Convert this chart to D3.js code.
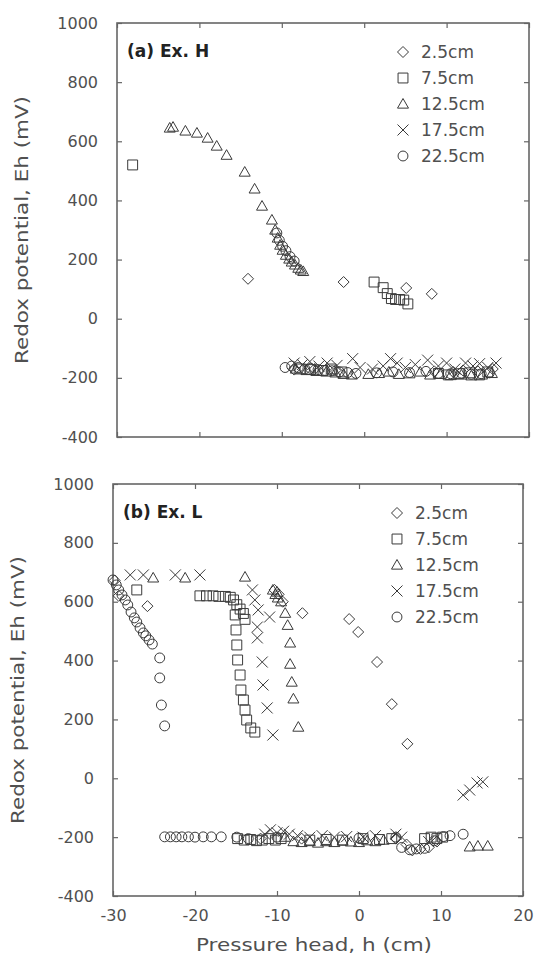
<!DOCTYPE html>
<html>
<head>
<meta charset="utf-8">
<script src="https://cdn.jsdelivr.net/npm/d3@7"></script>
<style>
  body { margin: 0; background: #fff; }
  svg text { font-family: "DejaVu Sans", sans-serif; fill: #505050; }
</style>
</head>
<body>
<svg id="chart" width="537" height="964"></svg>
<script>
// DATA
// ----------------------------------------
const X_TICKS = [-30, -20, -10, 0, 10, 20];
const Y_TICKS = [1000, 800, 600, 400, 200, 0, -200, -400];
const DEPTHS = ["2.5cm", "7.5cm", "12.5cm", "17.5cm", "22.5cm"];
const SHAPES = ["diamond", "square", "triangle", "cross", "circle"];

// (a) Ex. H  -- [pressure head h, Eh]
const exH_2_5 = [[-14.1, 135], [-2.5, 124], [5.1, 104], [8.2, 84],
  [-8.5, -172], [-6, -170], [-3.5, -175], [8.5, -178], [10.8, -180], [12, -175], [13.8, -178], [15.6, -170]];
const exH_7_5 = [[-28.1, 520], [1.2, 124], [2.3, 105], [2.8, 85], [3.3, 68], [3.8, 65], [4.3, 65], [4.8, 63], [5.3, 50],
  [-7.8, -170], [-6.5, -172], [-5, -175], [-4, -170], [-2.7, -180], [9, -185], [10.2, -190], [11.5, -186], [12.8, -183], [14, -190], [15, -180]];
const exH_12_5 = [[-23.6, 645], [-23.2, 648], [-21.7, 635], [-20.3, 628], [-19, 611], [-17.9, 584], [-16.7, 553],
  [-14.5, 496], [-13.3, 439], [-12.4, 381], [-11.2, 334], [-10.8, 300], [-10.5, 273], [-10.2, 249], [-9.9, 232],
  [-9.5, 215], [-9.1, 202], [-8.8, 192], [-8.4, 182], [-8, 171], [-7.7, 165], [-7.4, 160],
  [-8.3, -170], [-7, -175], [-5.8, -178], [-4.6, -180], [-3.5, -183], [-2.5, -188], [-1.5, -190], [0.5, -188],
  [1.8, -185], [3, -180], [4.2, -188], [5.5, -186], [6.8, -180], [8, -190], [9.2, -188], [10.5, -192], [11.8, -190],
  [13, -193], [14.3, -190], [15.5, -185]];
const exH_17_5 = [[-8.5, -150], [-7.5, -155], [-6.6, -145], [-5.5, -160], [-4.5, -150], [-3.3, -158], [-1.4, -135],
  [-0.5, -165], [1, -170], [2.3, -160], [3.2, -135], [4, -150], [5, -165], [6.2, -155], [7.7, -140], [9, -160],
  [10, -150], [11, -170], [12.3, -150], [13.2, -160], [14, -152], [15, -165], [16, -150]];
const exH_22_5 = [[-10.6, 290], [-10.3, 265], [-9.9, 245], [-9.5, 230], [-9, 210], [-8.5, 195],
  [-9.6, -165], [-8.8, -160], [-8, -165], [-7.2, -170], [-6.5, -168], [-5.6, -172], [-4.8, -175], [-3.9, -176],
  [-3, -180], [-2, -182], [-1, -185], [1.5, -183], [3.5, -180], [5.5, -182], [7.5, -178], [9, -185], [10.5, -186],
  [11.8, -184], [13, -188], [14.2, -186], [15.2, -183]];

// (b) Ex. L
const exL_2_5 = [[-29.8, 672], [-29.3, 620], [-25.8, 585], [-10.3, 640], [-9.8, 625], [-9.3, 600], [-6.9, 561],
  [-1.2, 541], [-0.1, 497], [2.2, 395], [4, 252], [5.9, 117],
  [-12, -205], [-7, -205], [4.5, -205], [5.8, -225], [6.5, -245], [7.5, -240], [8.5, -235], [9.5, -215]];
const exL_7_5 = [[-27.1, 640], [-19.4, 620], [-18.6, 620], [-17.8, 620], [-17.1, 618], [-16.3, 618], [-15.7, 615],
  [-15.3, 606], [-14.9, 590], [-14.5, 575], [-14.1, 560], [-13.9, 540],
  [-15.1, 555], [-15, 504], [-14.9, 453], [-14.8, 402], [-14.5, 351], [-14.4, 300], [-14.1, 266], [-13.9, 232],
  [-13.7, 198], [-13.2, 171], [-12.7, 157],
  [-14.8, -205], [-14, -210], [-13.2, -208], [-12.5, -212], [-11.8, -210], [-11, -205], [-10.2, -210], [-9.5, -205],
  [-6, -210], [-4, -208], [-2, -210], [0.5, -205], [2.5, -208], [4, -205], [8, -205], [8.8, -200], [9.5, -205], [10.2, -200]];
const exL_12_5 = [[-25.1, 681], [-21.2, 681], [-13.9, 684], [-10.5, 640], [-10.2, 625], [-10, 633], [-9.9, 613],
  [-9.5, 600], [-9, 561], [-8.7, 520], [-8.4, 460], [-8.4, 388], [-8.2, 327], [-8, 270], [-7.4, 174],
  [-9, -200], [-8, -215], [-7, -218], [-6, -215], [-5, -220], [-4, -215], [-3, -218], [-2, -213], [-1, -216],
  [0, -218], [1, -212], [2, -215], [3, -210], [13.5, -233], [14.5, -230], [15.7, -230]];
const exL_17_5 = [[-27.9, 691], [-26.3, 691], [-22.4, 691], [-19.4, 691], [-13, 640], [-12.7, 606], [-12.3, 572],
  [-10.9, 548], [-12.4, 514], [-12.4, 477], [-11.8, 395], [-11.7, 317], [-11.2, 239], [-10.5, 147],
  [-11.5, -190], [-10.8, -175], [-10, -185], [-9.2, -180], [-8.5, -190], [-7.5, -195], [-6, -200], [-4.5, -195],
  [-3, -200], [-1.5, -198], [0.5, -200], [2, -195], [4.5, -190], [5.2, -200], [8.5, -215],
  [12.7, -57], [13.5, -40], [14.4, -16], [15.1, -12]];
const exL_22_5 = [[-30, 674], [-29.6, 657], [-29.3, 640], [-28.9, 623], [-28.5, 606], [-28.2, 589], [-27.8, 565],
  [-27.4, 545], [-27.1, 531], [-26.7, 511], [-26.3, 494], [-26, 484], [-25.6, 470], [-25.2, 456],
  [-24.3, 409], [-24.3, 341], [-24.1, 249], [-23.7, 178],
  [-23.7, -199], [-23, -199], [-22.3, -199], [-21.6, -199], [-20.8, -199], [-20, -200], [-19, -199], [-18, -199],
  [-16.8, -199], [-14.9, -200], [-13.5, -205], [-10, -200], [0, -203], [4.5, -200], [5.2, -235], [6.2, -243],
  [7, -240], [8, -238], [9.2, -212], [10.3, -198], [11.1, -195], [12.7, -190]];

// LAYOUT
// ----------------------------------------
const MARK_SIZE = 11;
const STROKE = "#3a3a3a";
const svg = d3.select("#chart");
const fmt = d => String(d); // plain hyphen minus, as in the figure

const panels = [
  { label: "(a) Ex. H", series: [exH_2_5, exH_7_5, exH_12_5, exH_17_5, exH_22_5],
    left: 117, right: 529, top: 23, bottom: 437, xLabels: false, titleX: 22 },
  { label: "(b) Ex. L", series: [exL_2_5, exL_7_5, exL_12_5, exL_17_5, exL_22_5],
    left: 113, right: 523, top: 484, bottom: 896, xLabels: true, titleX: 18 }
];

// marker paths centred at 0,0
function markerPath(shape, s) {
  const h = s / 2;
  if (shape === "diamond") return `M0,${-h}L${h},0L0,${h}L${-h},0Z`;
  if (shape === "square") return `M${-h * 0.9},${-h * 0.9}h${s * 0.9}v${s * 0.9}h${-s * 0.9}Z`;
  if (shape === "triangle") return `M0,${-h}L${h},${h * 0.75}L${-h},${h * 0.75}Z`;
  if (shape === "cross") return `M${-h},${-h}L${h},${h}M${h},${-h}L${-h},${h}`;
  const r = h * 0.9;
  return `M${r},0A${r},${r} 0 1,1 ${-r},0A${r},${r} 0 1,1 ${r},0Z`;
}

function drawPanel(p) {
  const x = d3.scaleLinear().domain([-30, 20]).range([p.left, p.right]);
  const y = d3.scaleLinear().domain([-400, 1000]).range([p.bottom, p.top]);
  const g = svg.append("g");

  // inward ticks on all four sides
  g.append("g").attr("transform", `translate(0,${p.bottom})`)
    .call(d3.axisBottom(x).tickValues(X_TICKS).tickSize(-5).tickFormat(p.xLabels ? fmt : ""))
    .call(a => a.select(".domain").remove())
    .call(a => a.selectAll("text").attr("dy", "1.35em").style("font-size", "16px"));
  g.append("g").attr("transform", `translate(0,${p.top})`)
    .call(d3.axisTop(x).tickValues(X_TICKS).tickSize(-5).tickFormat(""))
    .call(a => a.select(".domain").remove());
  g.append("g").attr("transform", `translate(${p.left},0)`)
    .call(d3.axisLeft(y).tickValues(Y_TICKS).tickSize(-5).tickPadding(19).tickFormat(fmt))
    .call(a => a.select(".domain").remove())
    .call(a => a.selectAll("text").style("font-size", "16px"));
  g.append("g").attr("transform", `translate(${p.right},0)`)
    .call(d3.axisRight(y).tickValues(Y_TICKS).tickSize(-5).tickFormat(""))
    .call(a => a.select(".domain").remove());
  g.selectAll(".tick line").attr("stroke", "#666").attr("stroke-width", 1.2);

  // frame
  g.append("rect")
    .attr("x", p.left).attr("y", p.top)
    .attr("width", p.right - p.left).attr("height", p.bottom - p.top)
    .attr("fill", "none").attr("stroke", "#666").attr("stroke-width", 1.6);

  // points
  p.series.forEach((data, i) => {
    g.append("g").selectAll("path")
      .data(data)
      .join("path")
      .attr("transform", d => `translate(${x(d[0])},${y(d[1])})`)
      .attr("d", markerPath(SHAPES[i], MARK_SIZE))
      .attr("fill", "none")
      .attr("stroke", STROKE)
      .attr("stroke-width", 1);
  });

  // panel label
  g.append("text")
    .attr("x", p.left + 10).attr("y", p.top + 34)
    .style("font-size", "17px").style("font-weight", "bold")
    .style("fill", "#222")
    .text(p.label);

  // legend
  const legend = g.append("g").attr("transform", `translate(${p.right - 126},${p.top + 29})`);
  DEPTHS.forEach((name, i) => {
    const row = legend.append("g").attr("transform", `translate(0,${i * 26})`);
    row.append("path").attr("d", markerPath(SHAPES[i], 11))
      .attr("fill", "none").attr("stroke", STROKE).attr("stroke-width", 1);
    row.append("text").attr("x", 18).attr("dy", "0.35em")
      .style("font-size", "17px").text(name);
  });

  // y title
  const cy = (p.top + p.bottom) / 2;
  svg.append("text")
    .attr("transform", `translate(${p.titleX},${cy}) rotate(-90)`)
    .attr("text-anchor", "middle").attr("dy", "0.35em")
    .attr("textLength", 268).attr("lengthAdjust", "spacingAndGlyphs")
    .style("font-size", "17px")
    .text("Redox potential, Eh (mV)");
}

panels.forEach(drawPanel);

// x title
svg.append("text")
  .attr("x", 314).attr("y", 945)
  .attr("text-anchor", "middle").attr("dy", "0.35em")
  .attr("textLength", 236).attr("lengthAdjust", "spacingAndGlyphs")
  .style("font-size", "17px")
  .text("Pressure head, h (cm)");
</script>
</body>
</html>
